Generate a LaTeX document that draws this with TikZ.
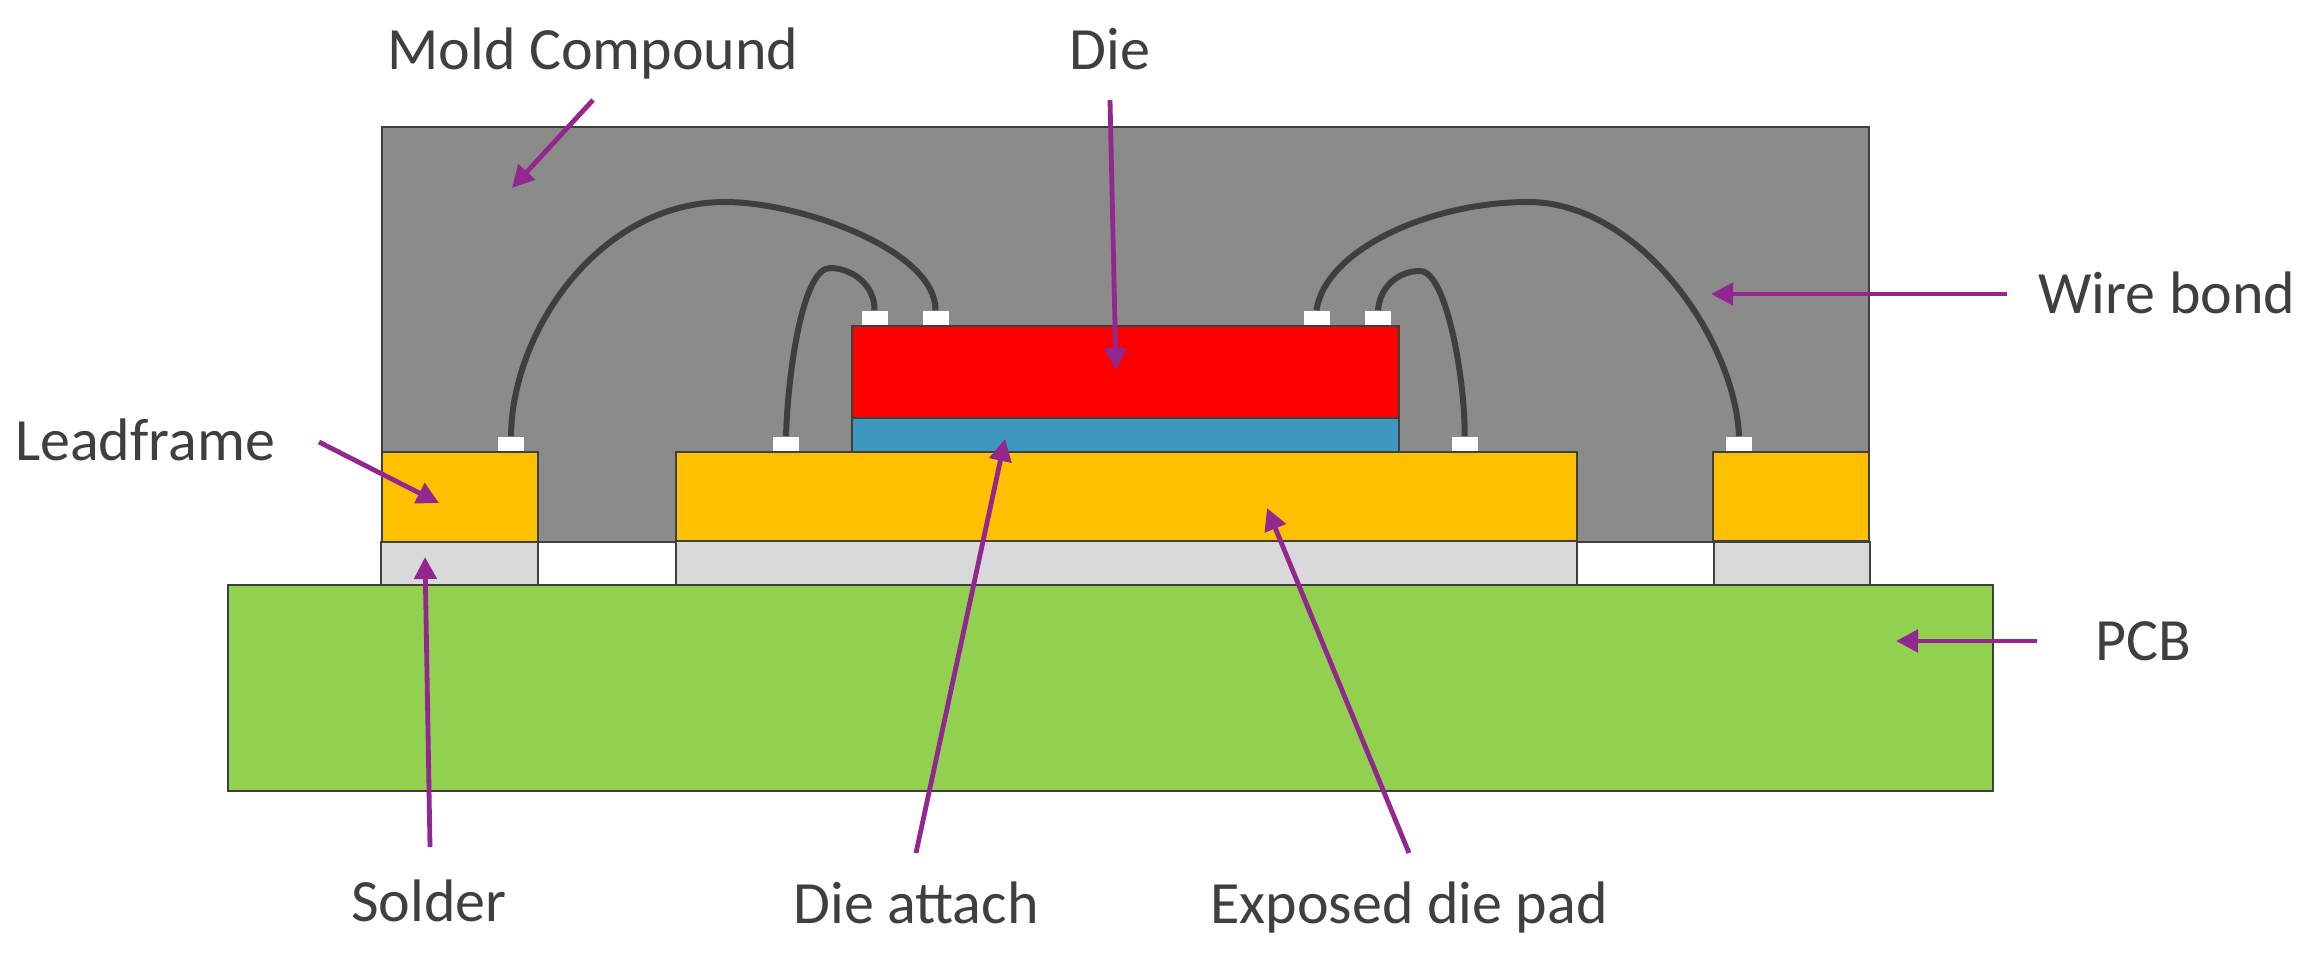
\documentclass[tikz,border=0pt]{standalone}
\usepackage{fontspec}
\setmainfont{Carlito}
\usetikzlibrary{arrows.meta}
\definecolor{moldc}{HTML}{8B8B89}
\definecolor{leadc}{HTML}{FFC000}
\definecolor{diec}{HTML}{FF0000}
\definecolor{attachc}{HTML}{3E97BF}
\definecolor{solderc}{HTML}{D9D9D9}
\definecolor{pcbc}{HTML}{92D050}
\definecolor{linec}{HTML}{3F3F3E}
\definecolor{arrowc}{HTML}{92278F}
\tikzset{
  part/.style={draw=linec,line width=1.4pt},
  padbox/.style={fill=white,draw=none,inner sep=0pt,minimum width=13pt,minimum height=7pt,anchor=south},
  wirebond/.style={draw=linec,line width=3pt},
  callout/.style={draw=arrowc,line width=2.4pt,-{Triangle[length=11pt,width=11pt]}},
  lbl/.style={text=linec,font=\fontsize{30}{36}\selectfont,inner sep=0pt,anchor=base}
}
\begin{document}
\begin{tikzpicture}[x=0.5pt,y=-0.5pt]
\useasboundingbox (0,0) rectangle (2317,959);
% body
\path[part,fill=moldc] (382,127) rectangle (1869,542);
\path[part,fill=solderc] (381,542) rectangle (538,585);
\path[part,fill=solderc] (676,541) rectangle (1577,585);
\path[part,fill=solderc] (1714,542) rectangle (1870,585);
\path[part,fill=pcbc] (228,585) rectangle (1993,791);
\path[part,fill=leadc] (382,452) rectangle (538,542);
\path[part,fill=leadc] (676,452) rectangle (1577,541);
\path[part,fill=leadc] (1713,452) rectangle (1869,541);
\path[part,fill=attachc] (852,418) rectangle (1399,452);
\path[part,fill=diec] (852,326) rectangle (1399,418);
% pads
\node[padbox] (p1) at (511,451) {};
\node[padbox] (p2) at (786,451) {};
\node[padbox] (p3) at (874.5,325) {};
\node[padbox] (p4) at (935.5,325) {};
\node[padbox] (p5) at (1316.5,325) {};
\node[padbox] (p6) at (1378,325) {};
\node[padbox] (p7) at (1464.5,451) {};
\node[padbox] (p8) at (1739,451) {};
% wires
\draw[wirebond] (p1.north) .. controls (512,330) and (600,202) .. (725,202)
  .. controls (800,202) and (936,250) .. (p4.north);
\draw[wirebond] (p2.north) .. controls (788,370) and (803,268) .. (830,268)
  .. controls (852,268) and (875,285) .. (p3.north);
\draw[wirebond] (p5.north) .. controls (1325,250) and (1430,202) .. (1528,202)
  .. controls (1640,202) and (1735,340) .. (p8.north);
\draw[wirebond] (p6.north) .. controls (1380,285) and (1400,271) .. (1420,271)
  .. controls (1448,271) and (1466,390) .. (p7.north);
% labels
\node[lbl] (mold) at (593,69) {Mold Compound};
\node[lbl] (die) at (1110,69) {Die};
\node[lbl] (wb) at (2167,313) {Wire bond};
\node[lbl] (lf) at (145,460) {Leadframe};
\node[lbl] (pcb) at (2143,660) {PCB};
\node[lbl] (sol) at (429,921) {Solder};
\node[lbl] (da) at (916,923) {Die attach};
\node[lbl] (edp) at (1409,923) {Exposed die pad};
% callouts
\coordinate (a1s) at (593,100); \coordinate (a1e) at (512,188);
\coordinate (a2s) at (1110,100); \coordinate (a2e) at (1116,370);
\coordinate (a3s) at (2007,294); \coordinate (a3e) at (1711,294);
\coordinate (a4s) at (319,442); \coordinate (a4e) at (439,503);
\coordinate (a5s) at (430,847); \coordinate (a5e) at (425,557);
\coordinate (a6s) at (916,853); \coordinate (a6e) at (1005,439);
\coordinate (a7s) at (1409,853); \coordinate (a7e) at (1267,508);
\coordinate (a8s) at (2037,641); \coordinate (a8e) at (1896,641);
\foreach \n in {1,...,8} \draw[callout] (a\n s) -- (a\n e);
\end{tikzpicture}
\end{document}
